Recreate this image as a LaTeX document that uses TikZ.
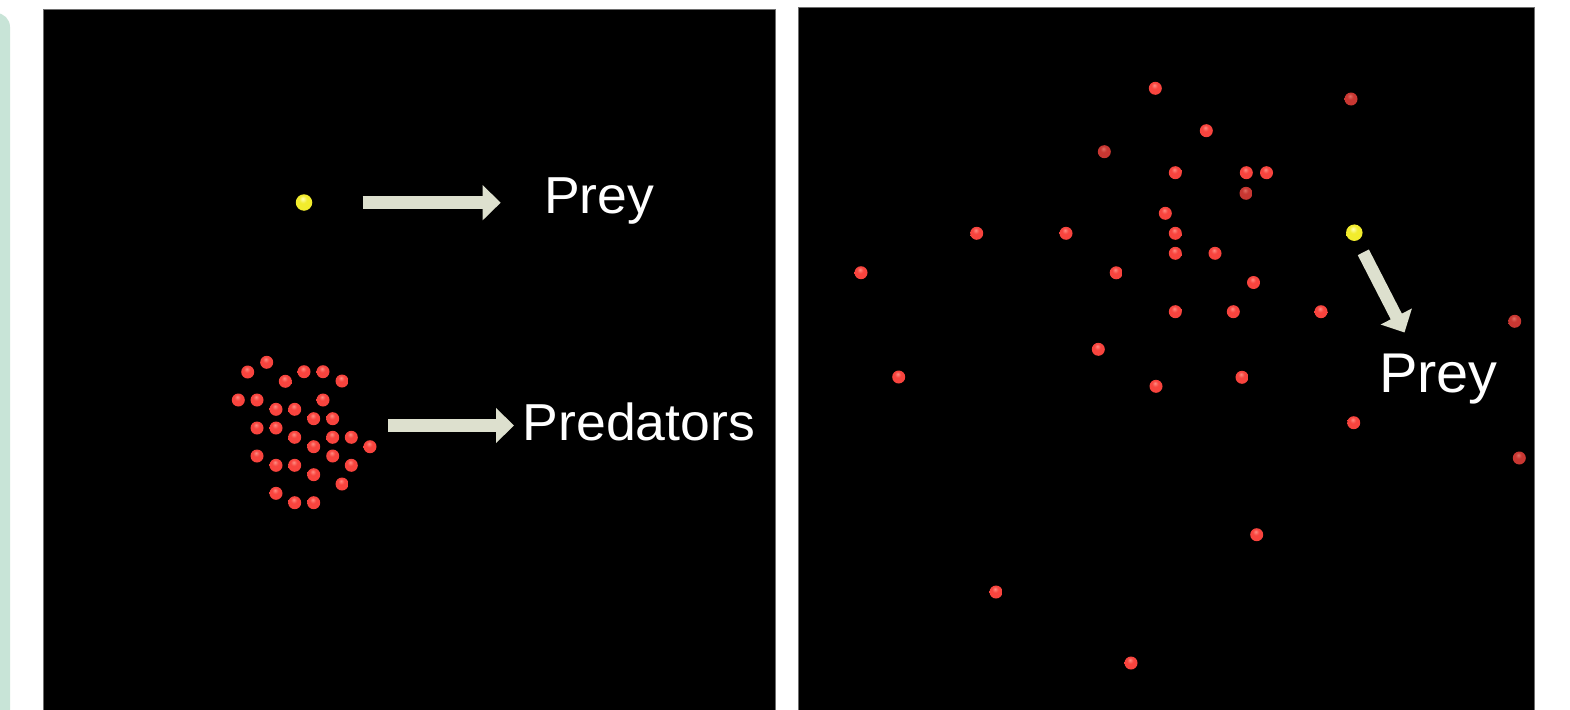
\documentclass[tikz,border=0pt]{standalone}
\usepackage{fontspec}
\setmainfont{Liberation Sans}
\newfontfamily\captionfont[FakeStretch=1.03]{Liberation Sans}
\usetikzlibrary{arrows.meta}

\definecolor{panelgreen}{RGB}{200,228,215}
\definecolor{panelrim}{RGB}{110,110,110}
\definecolor{arrowfill}{RGB}{221,224,206}

% sphere colours: highlight, body, rim
\definecolor{redHi}{RGB}{255,140,130}
\definecolor{redMid}{RGB}{248,68,62}
\definecolor{redRim}{RGB}{120,25,22}
\definecolor{dimHi}{RGB}{225,110,100}
\definecolor{dimMid}{RGB}{200,55,50}
\definecolor{dimRim}{RGB}{70,20,18}
\definecolor{yelHi}{RGB}{255,255,180}
\definecolor{yelMid}{RGB}{242,236,45}
\definecolor{yelRim}{RGB}{110,100,10}

\pgfdeclareradialshading{redsphere}{\pgfpoint{-4bp}{12bp}}{%
  color(0bp)=(redHi); color(12bp)=(redMid); color(40bp)=(redMid);
  color(56bp)=(redRim); color(70bp)=(redRim)}
\pgfdeclareradialshading{dimsphere}{\pgfpoint{-4bp}{12bp}}{%
  color(0bp)=(dimHi); color(12bp)=(dimMid); color(38bp)=(dimMid);
  color(56bp)=(dimRim); color(70bp)=(dimRim)}
\pgfdeclareradialshading{yellowsphere}{\pgfpoint{-4bp}{12bp}}{%
  color(0bp)=(yelHi); color(12bp)=(yelMid); color(40bp)=(yelMid);
  color(56bp)=(yelRim); color(70bp)=(yelRim)}

\tikzset{
  panel/.style={fill=black, draw=panelrim, line width=1pt},
  predator/.style={circle, minimum size=13pt, inner sep=0pt, shading=redsphere},
  farpredator/.style={predator, shading=dimsphere},
  prey/.style={circle, minimum size=16.5pt, inner sep=0pt, shading=yellowsphere},
  bigarrow/.style={draw=arrowfill, line width=12.5pt, -{Triangle[length=18pt,width=34pt,fill=arrowfill]}},
  caption/.style={text=white, inner sep=0pt, font=\captionfont\fontsize{52}{60}\selectfont},
  bigcaption/.style={caption, font=\captionfont\fontsize{56}{64}\selectfont},
}

\begin{document}
\begin{tikzpicture}[x=1pt, y=-1pt]
  \useasboundingbox (0,0) rectangle (1570,709);
  \fill[white] (0,0) rectangle (1570,709);

  % side strip with a rounded corner
  \fill[panelgreen, rounded corners=14pt] (-40,13) rectangle (10,740);

  % the two black panels
  \draw[panel] (43.5,9.5) rectangle (775,730);
  \draw[panel] (798,7.5) rectangle (1534,730);

  % ---------- left panel ----------
  \node[prey] (preyA) at (304,202.5) {};
  \coordinate (arrAfrom) at (362.7,202.7);
  \coordinate (arrAto) at (500.7,202.7);
  \draw[bigarrow] (arrAfrom) -- (arrAto);
  \node[caption, anchor=base west] (lblPreyA) at (544,213) {Prey};

  % predator cluster
  \foreach \px/\py [count=\i] in {
    266.7/362.3, 247.7/372, 304/371.7, 323/371.7, 285.3/381.3, 342/381,
    238.3/400, 257/400, 323/400, 276/409.3, 294.7/409.3, 313.7/418.7,
    332.7/418.7, 257/428, 276/428, 294.7/437.3, 332.7/437.3, 351.3/437.3,
    313.7/446.7, 370/446.7, 257/456, 332.7/456, 276/465.3, 294.7/465.3,
    351.3/465.3, 313.7/474.7, 342/484, 276/493.3, 294.7/502.7, 313.7/502.7}
    \node[predator] (predL\i) at (\px,\py) {};

  \coordinate (arrBfrom) at (388.3,425.5);
  \coordinate (arrBto) at (514,425.5);
  \draw[bigarrow] (arrBfrom) -- (arrBto);
  \node[caption, anchor=base west] (lblPred) at (522.5,440) {Predators};

  % ---------- right panel ----------
  \foreach \px/\py [count=\i] in {
    1155.3/88.3, 1206.3/130.7, 1175.3/172.7, 1246.3/172.7, 1266.5/172.7,
    1165.3/213.3, 976.7/233.3, 1066/233.3, 1175.3/233.3, 1175.3/253.3,
    1215/253.3, 861/272.7, 1116.2/272.8, 1253.5/282.5, 1175.3/311.7,
    1233.3/311.7, 1321/311.7, 1098.3/349.3, 898.7/377, 1156/386.3,
    1242/377.3, 1353.7/422.7, 1256.7/534.7, 996/592, 1131/663}
    \node[predator] (predR\i) at (\px,\py) {};
  \foreach \px/\py [count=\i] in {
    1351/99, 1104.3/151.7, 1246/193.3, 1514.7/321.3, 1519.3/458}
    \node[farpredator] (predRfar\i) at (\px,\py) {};

  \node[prey] (preyB) at (1354.3,232.7) {};
  \coordinate (arrCfrom) at (1363.3,252.3);
  \coordinate (arrCto) at (1404.5,332.5);
  \draw[bigarrow] (arrCfrom) -- (arrCto);
  \node[bigcaption, anchor=base west] (lblPreyB) at (1379,392) {Prey};
\end{tikzpicture}
\end{document}
